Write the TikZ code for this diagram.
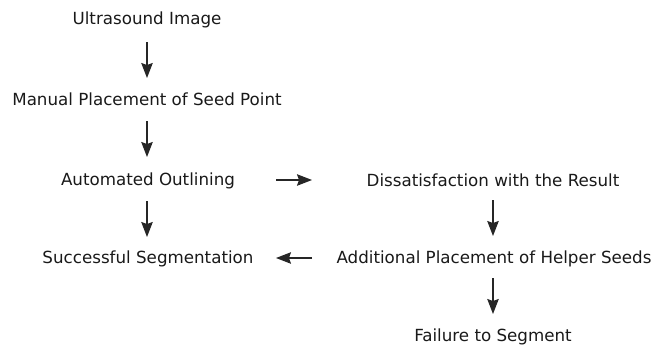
\documentclass[tikz,border=0pt]{standalone}
\usepackage{fontspec}
\setmainfont{DejaVu Sans}
\usetikzlibrary{arrows.meta}
\begin{document}
\begin{tikzpicture}[x=1pt,y=-1pt,
  lbl/.style={inner sep=0pt,font=\fontsize{16.7}{19}\selectfont,text=black!90},
  arr/.style={-{Stealth[length=15pt,width=11.5pt,inset=2pt]},line width=1.2pt,draw=black!85}]
\useasboundingbox (0,0) rectangle (651,346);
\node[lbl] (us) at (147,20) {Ultrasound Image};
\node[lbl] (mp) at (147,99.5) {Manual Placement of Seed Point};
\node[lbl] (ao) at (148,180.5) {Automated Outlining};
\node[lbl] (ss) at (148,258.5) {Successful Segmentation};
\node[lbl] (ds) at (493,180.5) {Dissatisfaction with the Result};
\node[lbl] (ap) at (494,258.5) {Additional Placement of Helper Seeds};
\node[lbl] (fs) at (493,337) {Failure to Segment};
\coordinate (a1s) at (147,42); \coordinate (a1e) at (147,78);
\coordinate (a2s) at (147,121); \coordinate (a2e) at (147,157);
\coordinate (a3s) at (147,201); \coordinate (a3e) at (147,237);
\coordinate (a4s) at (276,180); \coordinate (a4e) at (312,180);
\coordinate (a5s) at (312,258); \coordinate (a5e) at (276,258);
\coordinate (a6s) at (493,200); \coordinate (a6e) at (493,236);
\coordinate (a7s) at (493,278); \coordinate (a7e) at (493,314);
\draw[arr] (a1s) -- (a1e);
\draw[arr] (a2s) -- (a2e);
\draw[arr] (a3s) -- (a3e);
\draw[arr] (a4s) -- (a4e);
\draw[arr] (a5s) -- (a5e);
\draw[arr] (a6s) -- (a6e);
\draw[arr] (a7s) -- (a7e);
\end{tikzpicture}
\end{document}
